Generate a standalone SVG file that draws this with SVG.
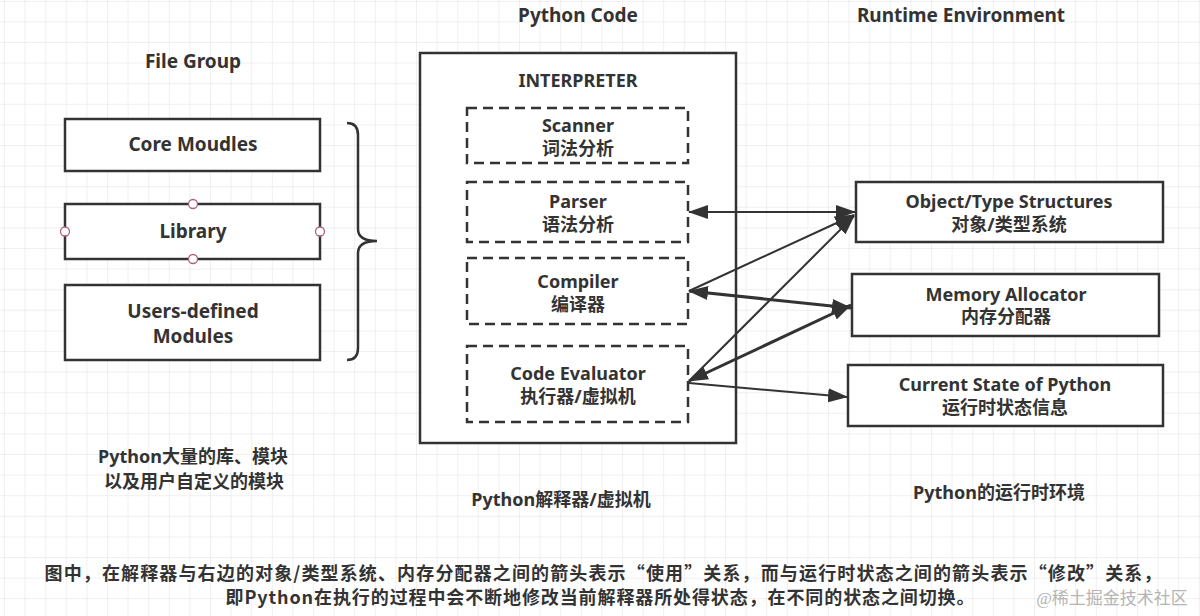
<svg xmlns="http://www.w3.org/2000/svg" width="1200" height="616" viewBox="0 0 1200 616">
<defs>
<pattern id="grid" x="4" y="0.8" width="20.6" height="20.6" patternUnits="userSpaceOnUse">
<path d="M0,0 H20.6 M0,0 V20.6" fill="none" stroke="#e2e2e2" stroke-width="1"/>
</pattern>
<marker id="ah" viewBox="0 0 20 14" markerWidth="20" markerHeight="14" refX="19" refY="7" orient="auto-start-reverse" markerUnits="userSpaceOnUse">
<path d="M0,0 L20,7 L0,14 z" fill="#333"/>
</marker>
<style>
.t{font-family:"Noto Sans","Noto Sans CJK SC",sans-serif;font-weight:bold;fill:#333;text-anchor:middle;font-size:18px}
.h{font-size:19px}
.n{font-family:"Noto Sans CJK SC","Noto Sans",sans-serif;font-size:18px}
.box{fill:#fff;stroke:#333;stroke-width:2.5}
.dash{fill:#fff;stroke:#333;stroke-width:2.5;stroke-dasharray:10 6}
.c{fill:none;stroke:#333;stroke-width:2}
.k{stroke-width:3}
.pt{fill:#fff;stroke:#b06078;stroke-width:1.3}
</style>
</defs>
<rect width="1200" height="616" fill="#fff"/>
<rect width="1200" height="616" fill="url(#grid)"/>

<g id="titles">
<text class="t h" x="193" y="68">File Group</text>
<text class="t h" x="578" y="22">Python Code</text>
<text class="t h" x="961" y="22">Runtime Environment</text>
</g>

<g id="core-modules">
<rect class="box" x="65" y="119" width="255" height="52"/>
<text class="t h" x="193" y="151">Core Moudles</text>
</g>
<g id="library">
<rect class="box" x="65" y="204" width="255" height="55"/>
<text class="t h" x="193" y="238">Library</text>
<circle class="pt" cx="193" cy="204" r="4.5"/>
<circle class="pt" cx="193" cy="259" r="4.5"/>
<circle class="pt" cx="65" cy="231.5" r="4.5"/>
<circle class="pt" cx="320" cy="231.5" r="4.5"/>
</g>
<g id="users-modules">
<rect class="box" x="65" y="285" width="255" height="75"/>
<text class="t h" x="193" y="318">Users-defined</text>
<text class="t h" x="193" y="343">Modules</text>
</g>
<g id="brace">
<path d="M347,123 Q358,123 358,135 L358,229 Q358,241 377,241 Q358,241 358,253 L358,348 Q358,360 347,360" fill="none" stroke="#333" stroke-width="2.5"/>
</g>
<g id="file-caption">
<text class="t" x="193" y="463">Python大量的库、模块</text>
<text class="t" x="194" y="488">以及用户自定义的模块</text>
</g>

<g id="interpreter">
<rect class="box" x="420" y="53" width="316" height="390"/>
<text class="t" x="578" y="87">INTERPRETER</text>
</g>
<g id="scanner">
<rect class="dash" x="467" y="108" width="221" height="55"/>
<text class="t" x="578" y="132">Scanner</text>
<text class="t" x="578" y="155">词法分析</text>
</g>
<g id="parser">
<rect class="dash" x="467" y="182" width="221" height="60"/>
<text class="t" x="578" y="208">Parser</text>
<text class="t" x="578" y="231">语法分析</text>
</g>
<g id="compiler">
<rect class="dash" x="467" y="258" width="221" height="66"/>
<text class="t" x="578" y="288">Compiler</text>
<text class="t" x="578" y="311">编译器</text>
</g>
<g id="code-evaluator">
<rect class="dash" x="467" y="346" width="221" height="76"/>
<text class="t" x="578" y="380">Code Evaluator</text>
<text class="t" x="578" y="403">执行器/虚拟机</text>
</g>
<g id="interp-caption">
<text class="t" x="561" y="506">Python解释器/虚拟机</text>
</g>

<g id="object-type">
<rect class="box" x="856" y="182" width="307" height="60"/>
<text class="t" x="1009" y="208">Object/Type Structures</text>
<text class="t" x="1009" y="231">对象/类型系统</text>
</g>
<g id="memory-allocator">
<rect class="box" x="852" y="274" width="307" height="62"/>
<text class="t" x="1006" y="301">Memory Allocator</text>
<text class="t" x="1006" y="323">内存分配器</text>
</g>
<g id="current-state">
<rect class="box" x="848" y="365" width="315" height="61"/>
<text class="t" x="1005" y="391">Current State of Python</text>
<text class="t" x="1005" y="414">运行时状态信息</text>
</g>
<g id="runtime-caption">
<text class="t" x="999" y="499">Python的运行时环境</text>
</g>

<g id="connectors">
<line class="c" x1="689" y1="212" x2="855" y2="212" marker-start="url(#ah)" marker-end="url(#ah)"/>
<line class="c" x1="689" y1="291" x2="854" y2="215" marker-end="url(#ah)"/>
<line class="c k" x1="689" y1="291" x2="851" y2="308" marker-start="url(#ah)" marker-end="url(#ah)"/>
<line class="c" x1="689" y1="381" x2="854" y2="216" marker-end="url(#ah)"/>
<line class="c k" x1="689" y1="381" x2="851" y2="305" marker-start="url(#ah)" marker-end="url(#ah)"/>
<line class="c" x1="689" y1="383" x2="847" y2="397" marker-end="url(#ah)"/>
</g>

<g id="note">
<text class="t n" x="603" y="580" textLength="1117" lengthAdjust="spacing">图中，在解释器与右边的对象/类型系统、内存分配器之间的箭头表示“使用”关系，而与运行时状态之间的箭头表示“修改”关系，</text>
<text class="t n" x="600" y="604" textLength="749" lengthAdjust="spacing">即Python在执行的过程中会不断地修改当前解释器所处得状态，在不同的状态之间切换。</text>
<text x="1112" y="604" style="font-family:'Liberation Serif','Noto Sans CJK SC',serif;font-size:17px;fill:#b5b5b5;text-anchor:middle">@稀土掘金技术社区</text>
</g>
</svg>
